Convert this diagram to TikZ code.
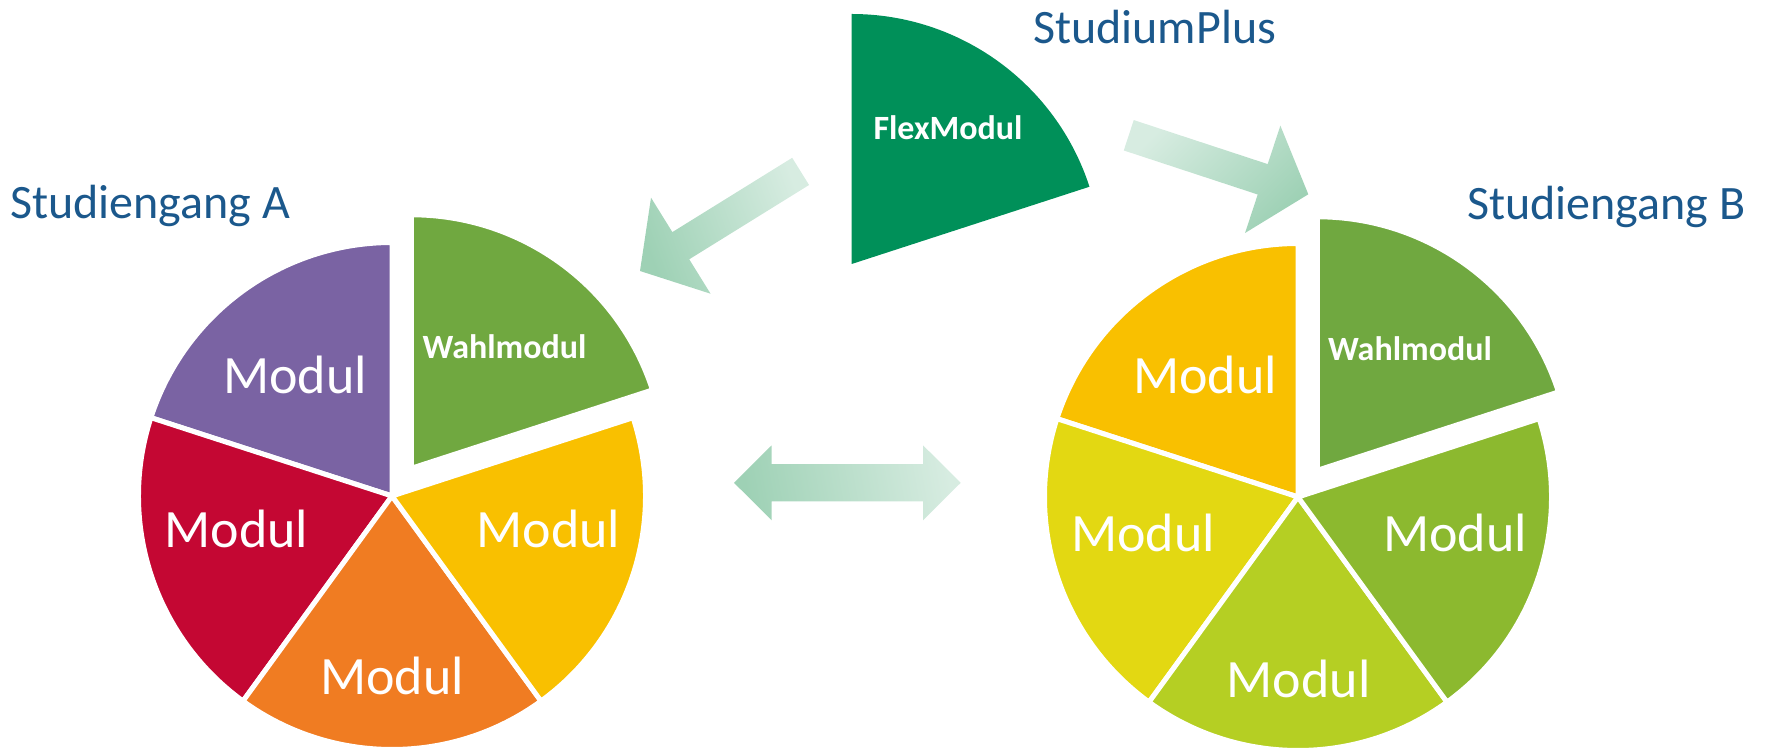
\documentclass[tikz,border=0pt]{standalone}
\usepackage{fontspec}
\setmainfont{Carlito}
\usepackage{tikz}
\usetikzlibrary{calc}
\definecolor{titleblue}{RGB}{27,88,140}
\definecolor{cpurple}{RGB}{122,99,163}
\definecolor{cwahl}{RGB}{112,168,64}
\definecolor{camber}{RGB}{249,192,0}
\definecolor{corange}{RGB}{240,124,34}
\definecolor{cred}{RGB}{196,7,51}
\definecolor{cflex}{RGB}{0,144,89}
\definecolor{clemon}{RGB}{227,216,18}
\definecolor{cygreen}{RGB}{181,207,35}
\definecolor{cdkgreen}{RGB}{140,185,47}
\definecolor{arrowdark}{RGB}{158,209,181}
\definecolor{arrowlight}{RGB}{215,236,225}
\def\piesector[#1](#2)(#3:#4:#5){\filldraw[#1] (#2) -- ++(#3:#5) arc (#3:#4:#5) -- cycle;}

\begin{document}
\begin{tikzpicture}[x=10pt, y=10pt,
		slice/.style={draw=white, line width=5pt},
		modul/.style={text=white, font=\fontsize{54}{60}\selectfont},
		wahl/.style={text=white, font=\bfseries\fontsize{34}{40}\selectfont},
		title/.style={text=titleblue, font=\fontsize{48}{54}\selectfont, anchor=base west, inner sep=0pt}]
			%%%%% START %%%%%
			\useasboundingbox (0, 0) rectangle (176.6, 74.9);
			
			% Studiengang A
			\piesector[slice, fill=cpurple](39.2, 25.3)(90:162:25.35);
			\piesector[slice, fill=cred](39.2, 25.3)(162:234:25.35);
			\piesector[slice, fill=corange](39.2, 25.3)(234:306:25.35);
			\piesector[slice, fill=camber](39.2, 25.3)(-54:18:25.35);
			\piesector[slice, fill=cwahl](41.14, 28.07)(18:90:25.35);
			
			\node[modul] (modA1) at (29.5, 37.4) {Modul};
			\node[modul] (modA2) at (23.65, 22.0) {Modul};
			\node[modul] (modA3) at (39.2, 7.3) {Modul};
			\node[modul] (modA4) at (54.85, 22.0) {Modul};
			\node[wahl] (wahlA) at (50.46, 40.2) {Wahlmodul};
			\node[title] (titleA) at (1.0, 53.07) {Studiengang A};
			
			% Studiengang B
			\piesector[slice, fill=camber](129.8, 25.2)(90:162:25.35);
			\piesector[slice, fill=clemon](129.8, 25.2)(162:234:25.35);
			\piesector[slice, fill=cygreen](129.8, 25.2)(234:306:25.35);
			\piesector[slice, fill=cdkgreen](129.8, 25.2)(-54:18:25.35);
			\piesector[slice, fill=cwahl](131.74, 27.87)(18:90:25.35);
			
			\node[modul] (modB1) at (120.5, 37.4) {Modul};
			\node[modul] (modB2) at (114.3, 21.6) {Modul};
			\node[modul] (modB3) at (129.86, 7.0) {Modul};
			\node[modul] (modB4) at (145.5, 21.6) {Modul};
			\node[wahl] (wahlB) at (141.0, 40.0) {Wahlmodul};
			\node[title] (titleB) at (146.7, 52.9) {Studiengang B};
			
			% StudiumPlus
			\piesector[draw=none, fill=cflex](85.17, 48.5)(18:90:25.0);
			\node[wahl] (flex) at (94.8, 62.1) {FlexModul};
			\node[title] (plus) at (103.3, 70.57) {StudiumPlus};
			
			% Pfeile
			\begin{scope}[shift={(64.0, 47.8)}, rotate=31.8]
				\shade[left color=arrowdark, right color=arrowlight, shading angle=110] (0, 0) -- (4.8, 5.65) -- (4.8, 1.6) -- (18.9, 1.6) -- (18.9, -1.6) -- (4.8, -1.6) -- (4.8, -5.65) -- cycle;
			\end{scope}
			\begin{scope}[shift={(130.83, 55.47)}, rotate=161.8]
				\shade[left color=arrowdark, right color=arrowlight, shading angle=-135] (0, 0) -- (4.8, 5.65) -- (4.8, 1.6) -- (18.9, 1.6) -- (18.9, -1.6) -- (4.8, -1.6) -- (4.8, -5.65) -- cycle;
			\end{scope}
			\shade[left color=arrowdark, right color=arrowlight, shading angle=100] (73.4, 26.62) -- (77.17, 30.37) -- (77.17, 28.49) -- (92.3, 28.49) -- (92.3, 30.37) -- (96.07, 26.62) -- (92.3, 22.87) -- (92.3, 24.75) -- (77.17, 24.75) -- (77.17, 22.87) -- cycle;
			%%%%% END %%%%%
\end{tikzpicture}
\end{document}
